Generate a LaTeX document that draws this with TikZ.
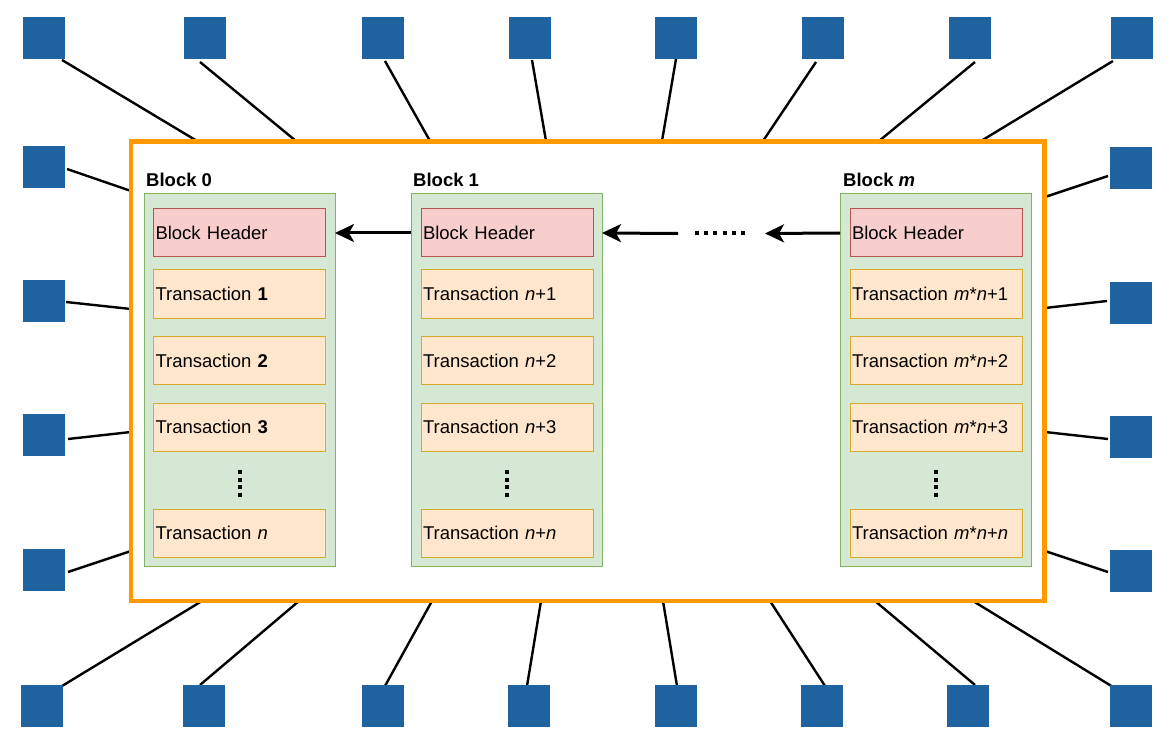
\documentclass[tikz,border=0pt]{standalone}
\usepackage{fontspec}
\setmainfont{Liberation Sans}
\usetikzlibrary{arrows.meta}
\definecolor{sqblue}{RGB}{31,99,160}
\definecolor{frameorange}{RGB}{255,153,0}
\definecolor{blkfill}{RGB}{213,232,212}
\definecolor{blkline}{RGB}{130,179,102}
\definecolor{hdrfill}{RGB}{248,206,204}
\definecolor{hdrline}{RGB}{184,84,80}
\definecolor{txfill}{RGB}{255,230,204}
\definecolor{txline}{RGB}{215,170,40}
\begin{document}
\begin{tikzpicture}[x=1pt,y=-1pt,
  font=\fontsize{18.5}{21}\selectfont,
  sq/.style={fill=sqblue,draw=none,minimum size=42pt,inner sep=0pt,outer sep=0pt,anchor=north west},
  link/.style={line width=2.4pt,black},
  frame/.style={draw=frameorange,fill=white,line width=4.8pt,minimum width=913.5pt,minimum height=459.5pt,inner sep=0pt,outer sep=0pt},
  blockbox/.style={draw=blkline,fill=blkfill,line width=1pt,minimum width=191pt,minimum height=372pt,inner sep=0pt,outer sep=0pt,anchor=north west},
  rowbox/.style={line width=1pt,text width=168pt,inner xsep=2pt,inner ysep=0pt,minimum height=48pt,align=left,outer sep=0pt,anchor=north west},
  hdr/.style={rowbox,draw=hdrline,fill=hdrfill},
  tx/.style={rowbox,draw=txline,fill=txfill},
  blabel/.style={font=\fontsize{18.5}{21}\selectfont\bfseries,inner sep=0pt,anchor=west},
  chainarrow/.style={line width=3pt,-{Stealth[length=19pt,width=18pt,inset=5pt]}},
  vdots/.style={line width=4pt,dash pattern=on 4pt off 3.6pt},
  hdots/.style={line width=4pt,dash pattern=on 4pt off 5.2pt}
]
\useasboundingbox (0,0) rectangle (1176,746);

% connectors from peers to the ledger frame
\foreach \i/\ax/\ay/\bx/\by in {
  T1/62/60/197/141, T2/200/62/296/141, T3/385/61/430/141, T4/532/60/546/141,
  T5/676/59/662/141, T6/816/62/763/141, T7/975/62/879/141, T8/1113/61/981/141,
  B1/62/686/202/601, B2/200/685/299/601, B3/385/686/432/601, B4/527/686/541/601,
  B5/677/686/663/601, B6/825/686/770/601, B7/975/685/875/601, B8/1113/687/973/601,
  L1/67/169/131/191, L2/66/302/131/309, L3/68/439/131/432, L4/68/572/131/551,
  R1/1108/176/1045/197, R2/1107/301/1045/308, R3/1108/439/1045/432, R4/1108/572/1045/551}
{
  \coordinate (a\i) at (\ax,\ay);
  \coordinate (b\i) at (\bx,\by);
  \draw[link] (a\i) -- (b\i);
}

% peer squares
\foreach \i/\x in {1/23,2/184,3/362,4/509,5/655,6/802,7/949,8/1111}
  \node[sq] (sT\i) at (\x,17) {};
\foreach \i/\x in {1/21,2/183,3/362,4/508,5/655,6/801,7/947,8/1110}
  \node[sq] (sB\i) at (\x,685) {};
\foreach \i/\y in {1/146,2/280,3/414,4/549}
  \node[sq] (sL\i) at (23,\y) {};
\foreach \i/\y in {1/147,2/282,3/416,4/550}
  \node[sq] (sR\i) at (1110,\y) {};

% ledger frame
\node[frame] (ledger) at (587.75,371.25) {};

% blocks
\node[blockbox] (blk0) at (144,194) {};
\node[blockbox] (blk1) at (411,194) {};
\node[blockbox] (blkm) at (840,194) {};

\node[blabel] (lbl0) at (146,180) {Block 0};
\node[blabel] (lbl1) at (413,180) {Block 1};
\node[blabel] (lblm) at (843,180) {Block \textit{m}};

% block 0
\node[hdr] (h0) at (153.5,209) {Block Header};
\node[tx] (t01) at (153.5,270) {Transaction \textbf{1}};
\node[tx] (t02) at (153.5,336.5) {Transaction \textbf{2}};
\node[tx] (t03) at (153.5,403) {Transaction \textbf{3}};
\node[tx] (t0n) at (153.5,509) {Transaction \textit{n}};

% block 1
\node[hdr] (h1) at (421,209) {Block Header};
\node[tx] (t11) at (421,270) {Transaction \textit{n}+1};
\node[tx] (t12) at (421,336.5) {Transaction \textit{n}+2};
\node[tx] (t13) at (421,403) {Transaction \textit{n}+3};
\node[tx] (t1n) at (421,509) {Transaction \textit{n}+\textit{n}};

% block m
\node[hdr] (hm) at (850,209) {Block Header};
\node[tx] (tm1) at (850,270) {Transaction \textit{m}*\textit{n}+1};
\node[tx] (tm2) at (850,336.5) {Transaction \textit{m}*\textit{n}+2};
\node[tx] (tm3) at (850,403) {Transaction \textit{m}*\textit{n}+3};
\node[tx] (tmn) at (850,509) {Transaction \textit{m}*\textit{n}+\textit{n}};

% vertical ellipses
\draw[vdots] (t03.center |- 0,470) -- (t03.center |- 0,497);
\draw[vdots] (t13.center |- 0,470) -- (t13.center |- 0,497);
\draw[vdots] (tm3.center |- 0,470) -- (tm3.center |- 0,497);

% chain arrows
\coordinate (gapR) at (765,233.5);
\coordinate (gapL) at (678,233.5);
\coordinate (dotA) at (695,233.5);
\coordinate (dotB) at (745,233.5);
\draw[chainarrow] (blk1.west |- h1.west) -- (blk0.east |- h0.east);
\draw[chainarrow] (gapL) -- (blk1.east |- h1.east);
\draw[hdots] (dotA) -- (dotB);
\draw[chainarrow] (blkm.west |- hm.west) -- (gapR);
\end{tikzpicture}
\end{document}
